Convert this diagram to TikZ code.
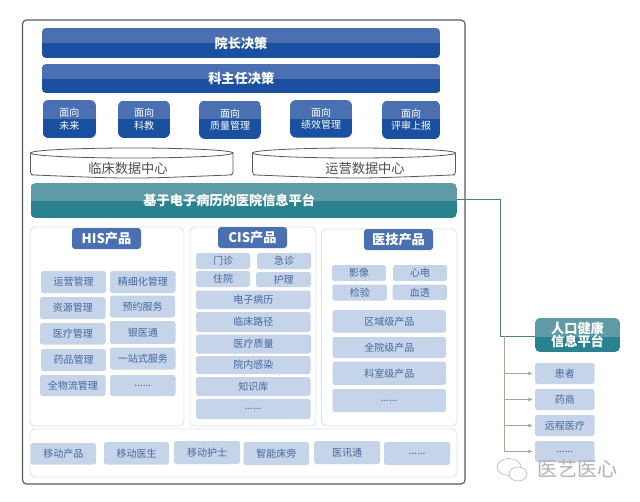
\documentclass[tikz,border=0pt]{standalone}
\usepackage{fontspec}
\setmainfont{Noto Sans CJK SC}
\usetikzlibrary{arrows.meta}
\definecolor{bluetop}{HTML}{4A70B2}
\definecolor{bluebot}{HTML}{1B50A0}
\definecolor{tealtop}{HTML}{5F9BA5}
\definecolor{tealbot}{HTML}{2A8290}
\definecolor{itemfill}{HTML}{C6D4E9}
\definecolor{itemtext}{HTML}{44669C}
\definecolor{panelline}{HTML}{DDE3EA}
\definecolor{treeline}{HTML}{A8A49A}
\tikzset{
  x=1pt,y=-1pt,
  panel/.style={draw=panelline,line width=0.9pt,rounded corners=5pt,fill=white},
  item/.style={fill=itemfill,rounded corners=2.5pt,text=itemtext,font=\fontsize{10}{11}\selectfont,inner sep=0pt},
  titlebox/.style={fill=bluetop,rounded corners=3pt,text=white,font=\fontsize{13.2}{14}\selectfont\bfseries,inner sep=0pt},
  store/.style={draw=black!65,line width=0.8pt,fill=white},
  storetext/.style={text=black!70,font=\fontsize{13.2}{14}\selectfont,inner sep=0pt},
  outerframe/.style={draw=black!65,line width=1.1pt,rounded corners=4pt},
  tealline/.style={draw=tealtop!80!black,line width=0.8pt},
  treelink/.style={draw=treeline,line width=1.1pt},
  treearrow/.style={draw=treeline,line width=0.9pt,-{Latex[length=4.5pt,width=4pt]}},
  bigband/.style={font=\fontsize{13.2}{14}\selectfont\bfseries},
  facing/.style={font=\fontsize{10}{12.8}\selectfont},
  popband/.style={font=\fontsize{13.2}{13}\selectfont\bfseries},
  wmark/.style={black!26,line width=0.7pt,fill=white}
}
% box with two-tone fill: name, x1,y1,x2,y2, split y, radius, colour family, node options, then text
\newcommand{\twotone}[9]{%
  \begin{scope}
    \clip[rounded corners=#7] (#2,#3) rectangle (#4,#5);
    \fill[#8top] (#2,#3) rectangle (#4,#6);
    \fill[#8bot] (#2,#6) rectangle (#4,#5);
  \end{scope}
  \node[minimum width=#4pt-#2pt,minimum height=#5pt-#3pt,inner sep=0pt,align=center,text=white,#9] (n#1) at ({(#2+#4)/2},{(#3+#5)/2})}
\newcommand{\itembox}[6]{%
  \node[item,minimum width=#4pt-#2pt,minimum height=#5pt-#3pt] (#1) at ({(#2+#4)/2},{(#3+#5)/2}) {#6};}
\newcommand{\cyl}[6]{%
  \draw[store,rounded corners=3pt] (#2,153) -- (#2,175) -- (#2+4,175) .. controls ({(#2+#3)/2},179) .. (#3-4,175) -- (#3,175) -- (#3,153);
  \draw[store] ({(#2+#3)/2},153) ellipse [x radius={(#3-#2)/2},y radius=5];
  \node[storetext] (#1) at (#4,#5) {#6};}
\begin{document}
\begin{tikzpicture}
\useasboundingbox[fill=white] (0,0) rectangle (640,501);
% outer frame
\draw[outerframe] (22.5,20) rectangle (465,484);
% top bands
\twotone{a}{42}{28}{440}{58}{43}{4pt}{blue}{bigband} {院长决策};
\twotone{b}{42}{64}{440.5}{93}{79}{4pt}{blue}{bigband} {科主任决策};
% facing boxes
\twotone{c}{42.5}{100}{96}{138}{119}{6pt}{blue}{facing} {面向\\未来};
\twotone{d}{118}{100.5}{170}{138}{119}{6pt}{blue}{facing} {面向\\科教};
\twotone{e}{199}{100.5}{261}{139}{119}{6pt}{blue}{facing} {面向\\质量管理};
\twotone{f}{290}{100}{352}{137.5}{119}{6pt}{blue}{facing} {面向\\绩效管理};
\twotone{g}{382}{100.5}{440}{139}{119}{6pt}{blue}{facing} {面向\\评审上报};
% data centres
\cyl{s1}{30.5}{233}{128}{168}{临床数据中心}
\cyl{s2}{252.5}{455.5}{365}{168}{运营数据中心}
\coordinate (turn1) at (500,199);
\coordinate (turn2) at (500,336);
% platform
\twotone{plat}{30.5}{183}{457}{218}{201}{5pt}{teal}{bigband} {\hspace*{-29pt}基于电子病历的医院信息平台};
% panels
\node[panel,minimum width=154pt,minimum height=199pt] (p1) at (107,326.5) {};
\node[panel,minimum width=126pt,minimum height=199pt] (p2) at (253,326.5) {};
\node[panel,minimum width=135.5pt,minimum height=197pt] (p3) at (389.25,327.5) {};
\node[panel,minimum width=427pt,minimum height=48pt] (p4) at (243.5,453) {};
% panel titles
\node[titlebox,minimum width=69pt,minimum height=21pt] (t1) at (106.5,238.5) {HIS产品};
\node[titlebox,minimum width=69pt,minimum height=21pt] (t2) at (252.5,237.5) {CIS产品};
\node[titlebox,minimum width=69pt,minimum height=21pt] (t3) at (398.5,239.5) {医技产品};
% HIS items
\itembox{h1}{41}{271}{106}{293}{运营管理}
\itembox{h2}{40}{297}{105.5}{319}{资源管理}
\itembox{h3}{40}{323}{105.5}{344.5}{医疗管理}
\itembox{h4}{41}{349}{106}{371}{药品管理}
\itembox{h5}{40}{375}{105.5}{396}{全物流管理}
\itembox{h6}{110}{271}{175.5}{293}{精细化管理}
\itembox{h7}{110}{295.5}{175}{317.5}{预约服务}
\itembox{h8}{110}{321}{175.5}{344}{银医通}
\itembox{h9}{110}{347.5}{175.5}{369.5}{一站式服务}
\itembox{h10}{110}{375}{175.5}{396}{......}
% CIS items
\itembox{c1}{196}{253}{250}{269}{门诊}
\itembox{c2}{257}{253}{311}{269}{急诊}
\itembox{c3}{196}{271}{250}{287}{住院}
\itembox{c4}{256}{272}{311}{287}{护理}
\itembox{c5}{196}{290.5}{310.5}{309}{电子病历}
\itembox{c6}{196}{312}{310.5}{332}{临床路径}
\itembox{c7}{196}{334.5}{311}{353.5}{医疗质量}
\itembox{c8}{196}{356}{310.5}{374}{院内感染}
\itembox{c9}{196}{377}{310.5}{396}{知识库}
\itembox{c10}{196}{399}{310.5}{419}{......}
% imaging items
\itembox{m1}{332}{265}{386}{281}{影像}
\itembox{m2}{393}{265}{447}{281}{心电}
\itembox{m3}{332.5}{284.5}{387}{300.5}{检验}
\itembox{m4}{392.5}{284.5}{447}{300}{血透}
\itembox{m5}{332.5}{310}{446}{332.5}{区域级产品}
\itembox{m6}{332.5}{337}{446}{358}{全院级产品}
\itembox{m7}{332.5}{361.5}{446}{385}{科室级产品}
\itembox{m8}{332.5}{389}{446}{412}{......}
% mobile items
\itembox{b1}{30.5}{443}{96}{464.5}{移动产品}
\itembox{b2}{104}{442}{169}{464.5}{移动医生}
\itembox{b3}{174}{441}{240}{464}{移动护士}
\itembox{b4}{243.5}{442}{309}{465}{智能床旁}
\itembox{b5}{314}{441}{380}{464}{医讯通}
\itembox{b6}{384}{442}{450}{465}{......}
% population platform
\twotone{pop}{535}{318}{620}{352}{337}{5pt}{teal}{popband} {人口健康\\信息平台};
% right items
\itembox{r1}{535}{363}{594.5}{384}{患者}
\itembox{r2}{535}{389}{594.5}{410}{药商}
\itembox{r3}{535}{415}{594.5}{436}{远程医疗}
\itembox{r4}{535}{441}{594.5}{462}{......}
% connectors
\draw[tealline] (nplat.east|-turn1) -- (turn1) -- (turn2) -- (npop.west|-turn2);
\coordinate (tree0) at (504.5,336);
\coordinate (tree1) at (504.5,373.5);
\coordinate (tree2) at (504.5,399.5);
\coordinate (tree3) at (504.5,425.5);
\coordinate (tree4) at (504.5,451.5);
\draw[treelink] (tree0) -- (tree4);
\draw[treearrow] (tree1) -- ([xshift=-2pt]r1.west|-tree1);
\draw[treearrow] (tree2) -- ([xshift=-2pt]r2.west|-tree2);
\draw[treearrow] (tree3) -- ([xshift=-2pt]r3.west|-tree3);
\draw[treearrow] (tree4) -- ([xshift=-2pt]r4.west|-tree4);
% watermark
\node[text=black!30,font=\fontsize{20}{22}\selectfont,inner sep=0pt] (wm) at (577,469) {医艺医心};
\draw[wmark] (509,467) ellipse [x radius=12,y radius=8.5];
\draw[wmark] (518,474) ellipse [x radius=9,y radius=7];
\end{tikzpicture}
\end{document}
